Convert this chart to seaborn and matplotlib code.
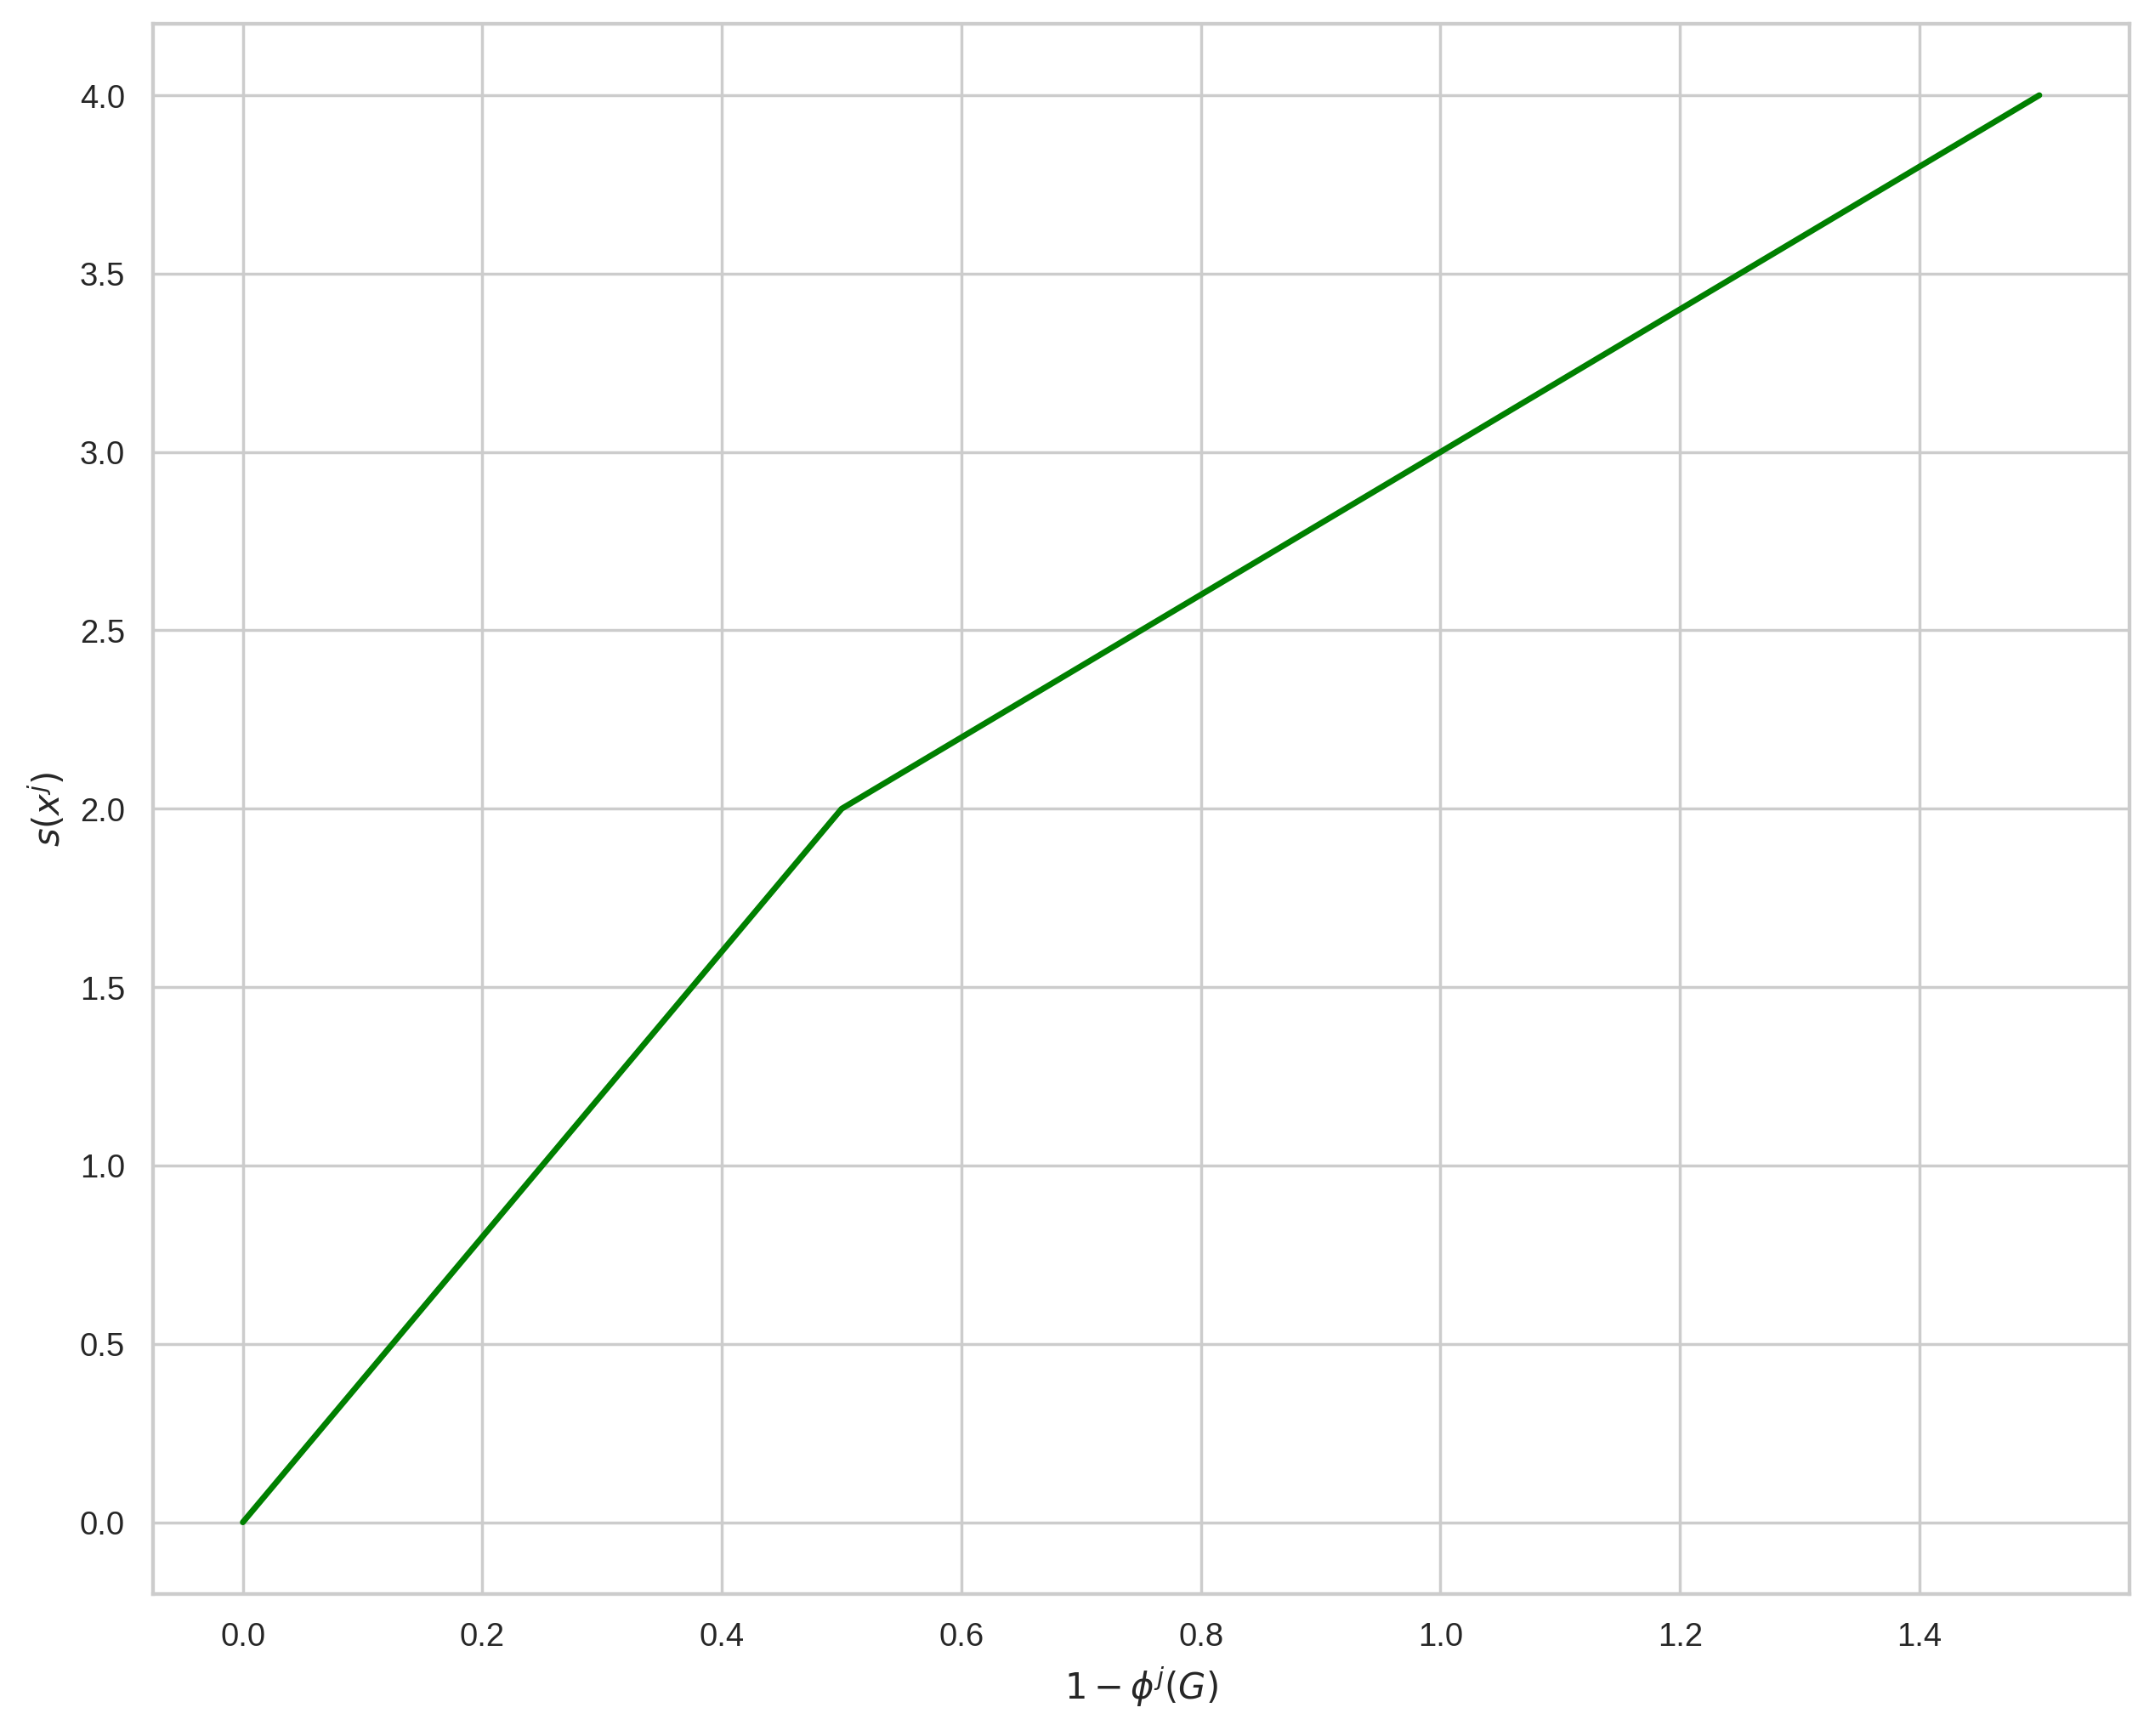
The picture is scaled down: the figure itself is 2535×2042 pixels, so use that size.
import numpy as np
import pandas as pd
import matplotlib
matplotlib.use("Agg")
import matplotlib.pyplot as plt
import seaborn as sns

# values
x_vals = [0.0, 0.5, 1.5]
y_vals = [0.0, 2.0, 4.0]

sns.set_theme(style="whitegrid")
plt.rcParams['font.family'] = ['Liberation Sans', 'DejaVu Sans']
plt.rcParams['mathtext.fontset'] = 'dejavusans'

fig, ax = plt.subplots(figsize=(10.14, 8.17), dpi=250)
fig.subplots_adjust(left=0.071, right=0.988, top=0.986, bottom=0.082)

df = pd.DataFrame({'x': x_vals, 'y': y_vals})
sns.lineplot(data=df, x='x', y='y', color='green', linewidth=2, ax=ax)

ax.set_xlim(-0.075, 1.575)
ax.set_ylim(-0.2, 4.2)
ax.set_xticks(np.arange(0, 1.41, 0.2))
ax.set_yticks(np.arange(0, 4.01, 0.5))
ax.set_xlabel(r'$1 - \phi^j(G)$')
ax.set_ylabel(r'$s(x^j)$')

fig.savefig('out.png', dpi=250)
